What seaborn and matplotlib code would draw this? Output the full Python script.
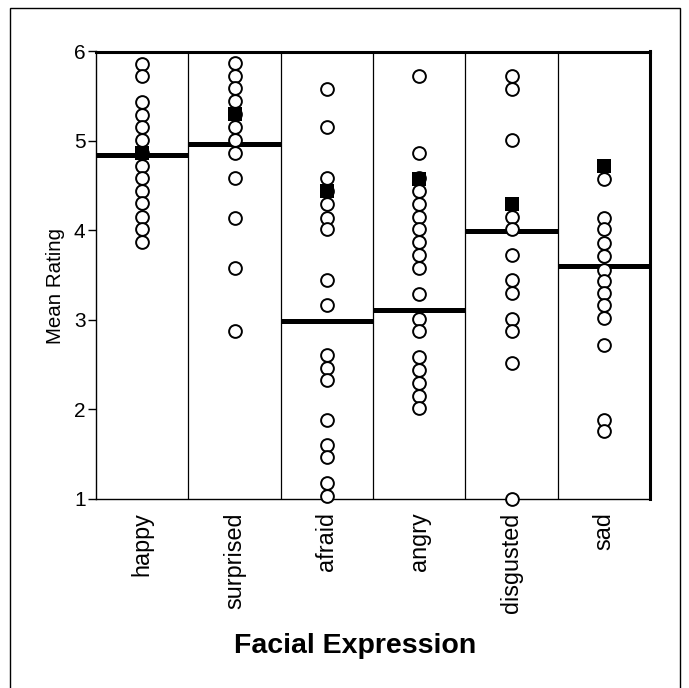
import matplotlib
matplotlib.use("Agg")
import matplotlib.pyplot as plt
import seaborn as sns
import pandas as pd
from matplotlib.patches import Rectangle

categories = ["happy", "surprised", "afraid", "angry", "disgusted", "sad"]
happy = [5.86, 5.73, 5.44, 5.29, 5.15, 5.01, 4.87, 4.72, 4.58, 4.44, 4.30, 4.15, 4.01, 3.87]
surprised = [5.87, 5.73, 5.59, 5.45, 5.30, 5.15, 5.01, 4.87, 4.58, 4.14, 3.58, 2.87]
afraid = [5.58, 5.15, 4.59, 4.44, 4.29, 4.14, 4.01, 3.44, 3.16, 2.60, 2.46, 2.32, 1.88, 1.60, 1.46, 1.17, 1.03]
angry = [5.73, 4.87, 4.58, 4.44, 4.29, 4.15, 4.01, 3.87, 3.72, 3.58, 3.29, 3.01, 2.87, 2.58, 2.44, 2.29, 2.15, 2.01]
disgusted = [5.73, 5.58, 5.01, 4.15, 4.01, 3.72, 3.44, 3.30, 3.01, 2.87, 2.52, 1.0]
sad = [4.57, 4.14, 4.01, 3.86, 3.71, 3.56, 3.43, 3.30, 3.17, 3.02, 2.72, 1.88, 1.75]
square_vals = [4.87, 5.30, 4.44, 4.57, 4.29, 4.72]
line_vals = [4.84, 4.96, 2.98, 3.11, 3.99, 3.60]
yticks = [1, 2, 3, 4, 5, 6]

series = [happy, surprised, afraid, angry, disgusted, sad]
rows = [(c, v) for c, vals in zip(categories, series) for v in vals]
df = pd.DataFrame(rows, columns=["Facial Expression", "Mean Rating"])
df_sq = pd.DataFrame({"Facial Expression": categories, "Mean Rating": square_vals})

sns.set_theme(style="white")
plt.rcParams["font.family"] = ["Liberation Sans", "DejaVu Sans"]
plt.rcParams["text.color"] = "black"
plt.rcParams["axes.labelcolor"] = "black"
plt.rcParams["xtick.color"] = "black"
plt.rcParams["ytick.color"] = "black"

fig = plt.figure(figsize=(6.89, 6.88), dpi=100)
ax = fig.add_axes([96 / 689, 1 - 498.5 / 688, (650 - 96) / 689, (498.5 - 51.5) / 688])

# mean lines
for i, v in enumerate(line_vals):
    ax.hlines(v, i - 0.5, i + 0.5, color="black", lw=3.6, zorder=2)

# separators
for i in range(len(categories) - 1):
    ax.axvline(i + 0.5, color="black", lw=0.9, zorder=1)

sns.stripplot(data=df, x="Facial Expression", y="Mean Rating", order=categories,
              jitter=False, marker="o", size=9.2, color="white",
              edgecolor="black", linewidth=1.4, ax=ax, zorder=3, clip_on=False)
sns.stripplot(data=df_sq, x="Facial Expression", y="Mean Rating", order=categories,
              jitter=False, marker="s", size=10.5, color="black",
              edgecolor="black", linewidth=0, ax=ax, zorder=4, clip_on=False)

ax.set_xlim(-0.5, len(categories) - 0.5)
ax.set_ylim(1, 6)
ax.set_yticks(yticks)
ax.set_yticklabels([str(t) for t in yticks], fontsize=15)
ax.tick_params(axis="y", left=True, direction="out", length=5.5, width=1, pad=2, colors="black")
ax.tick_params(axis="x", bottom=False, pad=4, colors="black")
plt.setp(ax.get_xticklabels(), rotation=90, fontsize=16.8, va="top", ha="center")

ax.set_ylabel("Mean Rating", fontsize=14.8)
ax.yaxis.set_label_coords(-0.056, 0.475)
ax.set_xlabel("Facial Expression", fontsize=20.5, fontweight="bold")
ax.xaxis.set_label_coords(0.4675, -0.302)

for side in ["left", "bottom"]:
    ax.spines[side].set_linewidth(1.0)
    ax.spines[side].set_color("black")
for side in ["top", "right"]:
    ax.spines[side].set_linewidth(2.2)
    ax.spines[side].set_color("black")

fig.patches.append(Rectangle((10 / 689, -0.02), 670 / 689, 1 - 8 / 688 + 0.02,
                             transform=fig.transFigure, fill=False,
                             edgecolor="black", lw=1.0))

fig.savefig("out.png", dpi=100)
